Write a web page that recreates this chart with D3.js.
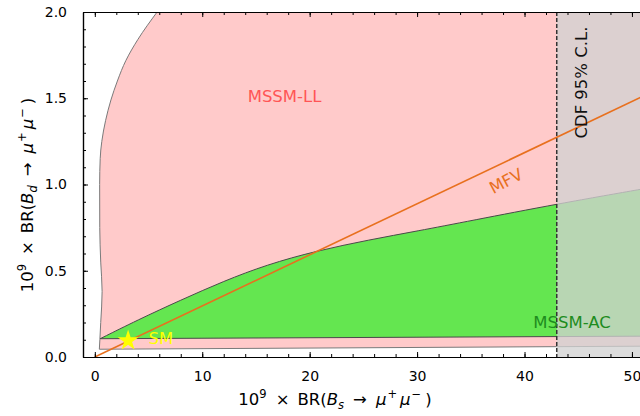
<!DOCTYPE html>
<html>
<head>
<meta charset="utf-8">
<script src="https://cdn.jsdelivr.net/npm/d3@7"></script>
<style>
  body { margin: 0; background: #fff; }
  svg { display: block; }
  text { font-family: "DejaVu Sans", sans-serif; }
</style>
</head>
<body>
<svg width="640" height="416"></svg>
<script>
// values (x = 1e9 BR(Bs->mumu), y = 1e9 BR(Bd->mumu))

// left edge of the MSSM-LL region, bottom to top
var llEdgeX = [0.42, 0.47, 0.55, 0.68, 0.55, 0.46, 0.45, 0.5, 0.65, 1.0, 1.5, 2.1, 2.9, 4.0, 5.8];
var llEdgeY = [0.045, 0.1, 0.2, 0.38, 0.55, 0.75, 1.0, 1.15, 1.25, 1.37, 1.49, 1.6, 1.72, 1.84, 2.0];
var llBottomX = [0.42, 52];
var llBottomY = [0.045, 0.063];

// MSSM-AC region
var acTopX = [0.5, 4, 8, 12, 16, 20.6, 25.6, 30, 35, 43, 52];
var acTopY = [0.106, 0.215, 0.33, 0.44, 0.535, 0.615, 0.68, 0.73, 0.79, 0.887, 0.985];
var acBottomX = [0.5, 52];
var acBottomY = [0.106, 0.121];

// MFV line and CDF limit
var mfvX = [0, 52];
var mfvY = [0, 1.54];
var cdfLimit = 43;

// SM point
var smX = [3.1];
var smY = [0.095];

var xTicks = [0, 10, 20, 30, 40, 50];
var yTicks = [0, 0.5, 1.0, 1.5, 2.0];

var svg = d3.select("svg"),
    width = +svg.attr("width"),
    height = +svg.attr("height");

var pLeft = 83, pRight = 640, pTop = 12, pBottom = 357;

var x = d3.scaleLinear().domain([-1.1, 50.75]).range([pLeft, pRight]);
var y = d3.scaleLinear().domain([0, 2]).range([pBottom, pTop]);

var zip = (xs, ys) => xs.map((v, i) => [v, ys[i]]);

svg.append("defs").append("clipPath").attr("id", "plot")
  .append("rect")
  .attr("x", pLeft).attr("y", pTop)
  .attr("width", pRight - pLeft).attr("height", pBottom - pTop);

var g = svg.append("g").attr("clip-path", "url(#plot)");

//--- MSSM-LL region ---//
var edgeLine = d3.line().x(d => x(d[0])).y(d => y(d[1])).curve(d3.curveMonotoneY);
var llPath = edgeLine(zip(llEdgeX, llEdgeY))
  + "L" + x(llBottomX[1]) + "," + y(2)
  + "L" + x(llBottomX[1]) + "," + y(llBottomY[1])
  + "L" + x(llBottomX[0]) + "," + y(llBottomY[0]) + "Z";

g.append("path")
  .attr("d", llPath)
  .attr("fill", "#ffcaca")
  .attr("stroke", "#7a7a7a")
  .attr("stroke-width", 1);

//--- MSSM-AC region ---//
var topLine = d3.line().x(d => x(d[0])).y(d => y(d[1])).curve(d3.curveBasis);
var acPath = topLine(zip(acTopX, acTopY))
  + "L" + x(acBottomX[1]) + "," + y(acBottomY[1])
  + "L" + x(acBottomX[0]) + "," + y(acBottomY[0]) + "Z";

g.append("path")
  .attr("d", acPath)
  .attr("fill", "#64e650")
  .attr("stroke", "#4a4a4a")
  .attr("stroke-width", 1);

//--- CDF excluded band ---//
g.append("rect")
  .attr("x", x(cdfLimit))
  .attr("y", pTop)
  .attr("width", pRight - x(cdfLimit))
  .attr("height", pBottom - pTop)
  .attr("fill", "rgb(209,209,209)")
  .attr("fill-opacity", 0.77);

g.append("line")
  .attr("x1", x(cdfLimit)).attr("x2", x(cdfLimit))
  .attr("y1", pTop).attr("y2", pBottom)
  .attr("stroke", "#333")
  .attr("stroke-width", 1.5)
  .attr("stroke-dasharray", "4,2");

//--- MFV line ---//
g.append("path")
  .datum(zip(mfvX, mfvY))
  .attr("d", d3.line().x(d => x(d[0])).y(d => y(d[1])))
  .attr("fill", "none")
  .attr("stroke", "#e8701e")
  .attr("stroke-width", 1.6);

//--- SM star ---//
g.selectAll(".sm")
  .data(zip(smX, smY))
  .enter().append("path")
  .attr("class", "sm")
  .attr("transform", d => "translate(" + x(d[0]) + "," + y(d[1]) + ")")
  .attr("d", d3.symbol(d3.symbolStar, 136))
  .attr("fill", "#ffff00");

//--- labels ---//
g.append("text")
  .attr("x", x(5.0)).attr("y", y(0.077))
  .attr("font-size", 16.5)
  .attr("fill", "#ffff00")
  .text("SM");

g.append("text")
  .attr("x", x(17.66)).attr("y", y(1.478))
  .attr("text-anchor", "middle")
  .attr("font-size", 16.5)
  .attr("fill", "#ff5555")
  .text("MSSM-LL");

g.append("text")
  .attr("x", x(44.42)).attr("y", y(0.17))
  .attr("text-anchor", "middle")
  .attr("font-size", 16.5)
  .attr("fill", "#1e8c1e")
  .text("MSSM-AC");

g.append("text")
  .attr("transform", "translate(" + x(38.28) + "," + y(1.02) + ") rotate(-28)")
  .attr("dy", "0.35em")
  .attr("text-anchor", "middle")
  .attr("font-size", 16.5)
  .attr("fill", "#e8701e")
  .text("MFV");

g.append("text")
  .attr("transform", "translate(" + x(45.77) + "," + y(1.591) + ") rotate(-90)")
  .attr("text-anchor", "middle")
  .attr("font-size", 16.5)
  .attr("fill", "#111")
  .text("CDF 95% C.L.");

//--- axes ---//
var xMinor = d3.range(0, 52, 2);
var yMinor = d3.range(0, 2.01, 0.1);

function styleAxis(a) {
  a.selectAll("path").attr("stroke", "#000").attr("stroke-width", 1.2);
  a.selectAll("line").attr("stroke", "#000").attr("stroke-width", 1);
  a.selectAll("text").attr("font-size", 14).attr("font-family", "DejaVu Sans").attr("fill", "#000");
}

var ax = svg.append("g")
  .attr("transform", "translate(0," + pBottom + ")")
  .call(d3.axisBottom(x).tickValues(xMinor).tickSize(-3).tickSizeOuter(0).tickFormat(""));
styleAxis(ax);
ax = svg.append("g")
  .attr("transform", "translate(0," + pBottom + ")")
  .call(d3.axisBottom(x).tickValues(xTicks).tickSize(-5).tickSizeOuter(0).tickPadding(14).tickFormat(d3.format("d")));
styleAxis(ax);

ax = svg.append("g")
  .attr("transform", "translate(0," + pTop + ")")
  .call(d3.axisTop(x).tickValues(xMinor).tickSize(-3).tickSizeOuter(0).tickFormat(""));
styleAxis(ax);
ax = svg.append("g")
  .attr("transform", "translate(0," + pTop + ")")
  .call(d3.axisTop(x).tickValues(xTicks).tickSize(-5).tickSizeOuter(0).tickFormat(""));
styleAxis(ax);

ax = svg.append("g")
  .attr("transform", "translate(" + pLeft + ",0)")
  .call(d3.axisLeft(y).tickValues(yMinor).tickSize(-3).tickSizeOuter(0).tickFormat(""));
styleAxis(ax);
ax = svg.append("g")
  .attr("transform", "translate(" + pLeft + ",0)")
  .call(d3.axisLeft(y).tickValues(yTicks).tickSize(-5).tickSizeOuter(0).tickPadding(16).tickFormat(d3.format(".1f")));
styleAxis(ax);

//--- axis titles ---//
// shifts in px relative to the baseline of the label
function mathLabel(sel, parts) {
  var cur = 0;
  parts.forEach(p => {
    var shift = p.s == "sup" ? -7.5 : p.s == "sub" ? 3.5 : 0;
    sel.append("tspan")
      .attr("dy", (shift - cur) + "px")
      .attr("dx", (p.dx || 0) + "px")
      .attr("font-size", p.s ? "11.5px" : "16.5px")
      .attr("font-style", p.i ? "italic" : "normal")
      .text(p.t);
    cur = shift;
  });
}

function titleParts(sub) {
  return [
    { t: "10" }, { t: "9", s: "sup" }, { t: "×", dx: 9 }, { t: "BR(", dx: 8 },
    { t: "B", i: true }, { t: sub, s: "sub", i: true }, { t: "→", dx: 9 },
    { t: "μ", i: true, dx: 9 }, { t: "+", s: "sup", dx: 1 }, { t: "μ", i: true, dx: 3 },
    { t: "−", s: "sup", dx: 1 }, { t: ")", dx: 4 }
  ];
}

var xTitle = svg.append("text")
  .attr("x", 335).attr("y", 405)
  .attr("text-anchor", "middle")
  .attr("fill", "#000");
mathLabel(xTitle, titleParts("s"));

var yTitle = svg.append("text")
  .attr("transform", "translate(33,195) rotate(-90)")
  .attr("text-anchor", "middle")
  .attr("fill", "#000");
mathLabel(yTitle, titleParts("d"));
</script>
</body>
</html>
